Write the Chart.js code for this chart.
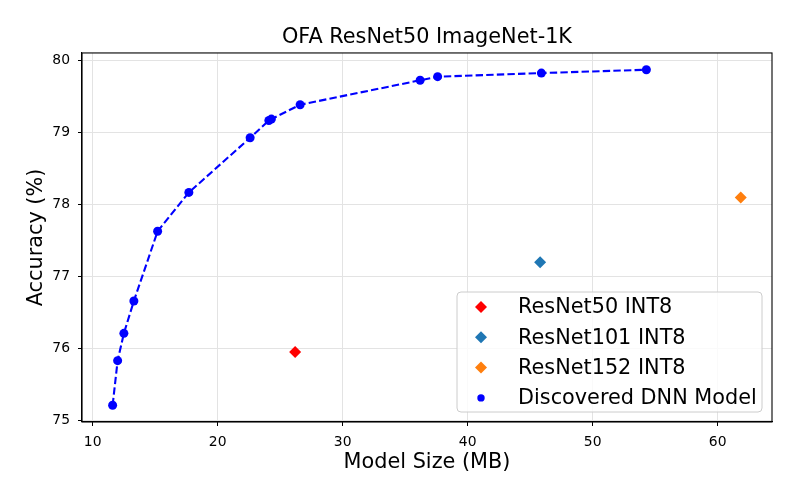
<!DOCTYPE html>
<html>
<head>
<meta charset="utf-8">
<script src="https://cdn.jsdelivr.net/npm/chart.js@4.4.1/dist/chart.umd.min.js"></script>
<style>
  html, body { margin: 0; padding: 0; background: #fff; }
  #wrap { width: 800px; height: 500px; }
</style>
</head>
<body>
<div id="wrap"><canvas id="chartCanvas"></canvas></div>
<script>
// discovered subnetworks (size in MB, top-1 accuracy %)
const ofaSize = [11.6, 12.0, 12.5, 13.3, 15.2, 17.7, 22.6, 24.1, 24.3, 26.6, 36.2, 37.6, 45.9, 54.3];
const ofaAcc = [75.21, 75.83, 76.21, 76.66, 77.63, 78.17, 78.93, 79.17, 79.19, 79.39, 79.73, 79.78, 79.83, 79.877];

// quantized baselines
const baseNames = ["ResNet50 INT8", "ResNet101 INT8", "ResNet152 INT8"];
const baseSize = [26.2, 45.8, 61.85];
const baseAcc = [75.95, 77.2, 78.1];
const baseColors = ["#ff0000", "#1f77b4", "#ff7f0e"];

const xTicks = [10, 20, 30, 40, 50, 60];
const yTicks = [75, 76, 77, 78, 79, 80];

const FONT = "'DejaVu Sans', sans-serif";

const datasets = baseNames.map((name, i) => ({
  label: name,
  type: "scatter",
  data: [{ x: baseSize[i], y: baseAcc[i] }],
  pointStyle: "rectRot",
  pointRadius: 6,
  pointHoverRadius: 6,
  pointBackgroundColor: baseColors[i],
  pointBorderWidth: 0,
  legendRadius: 6
}));

datasets.push({
  label: "Discovered DNN Model",
  type: "line",
  data: ofaSize.map((x, i) => ({ x: x, y: ofaAcc[i] })),
  borderColor: "#0000ff",
  borderWidth: 2.1,
  borderDash: [7.4, 3.2],
  pointStyle: "circle",
  pointRadius: 4.5,
  pointHoverRadius: 4.5,
  pointBackgroundColor: "#0000ff",
  pointBorderWidth: 0,
  tension: 0,
  fill: false,
  legendRadius: 3.7
});

// full black frame round the plot area
const frame = {
  id: "frame",
  afterDatasetsDraw(chart) {
    const { ctx, chartArea: a } = chart;
    ctx.save();
    ctx.strokeStyle = "#000";
    ctx.lineWidth = 1.1;
    ctx.strokeRect(a.left, a.top, a.right - a.left, a.bottom - a.top);
    ctx.restore();
  }
};

// matplotlib style legend in the lower right corner
const boxLegend = {
  id: "boxLegend",
  afterDraw(chart) {
    const { ctx, chartArea: a } = chart;
    const w = 305, h = 120;
    const left = a.right - 10 - w;
    const top = a.bottom - 10 - h;
    ctx.save();
    ctx.beginPath();
    ctx.roundRect(left, top, w, h, 4);
    ctx.fillStyle = "rgba(255,255,255,0.8)";
    ctx.fill();
    ctx.strokeStyle = "#cccccc";
    ctx.lineWidth = 1;
    ctx.stroke();

    ctx.font = "20.8px " + FONT;
    ctx.textBaseline = "middle";
    chart.data.datasets.forEach((ds, i) => {
      const cx = left + 24;
      const cy = top + 15 + i * 30.3;
      const r = ds.legendRadius;
      ctx.fillStyle = ds.pointBackgroundColor;
      ctx.beginPath();
      if (ds.pointStyle === "circle") {
        ctx.arc(cx, cy, r, 0, Math.PI * 2);
      } else {
        ctx.moveTo(cx, cy - r);
        ctx.lineTo(cx + r, cy);
        ctx.lineTo(cx, cy + r);
        ctx.lineTo(cx - r, cy);
        ctx.closePath();
      }
      ctx.fill();
      ctx.fillStyle = "#000";
      ctx.fillText(ds.label, left + 61, cy + 1);
    });
    ctx.restore();
  }
};

const ctx = document.getElementById("chartCanvas");

new Chart(ctx, {
  type: "scatter",
  data: { datasets: datasets },
  plugins: [frame, boxLegend],
  options: {
    responsive: true,
    maintainAspectRatio: false,
    animation: false,
    layout: { padding: { left: 0, right: 28, top: 0, bottom: 0 } },
    plugins: {
      legend: { display: false },
      tooltip: { enabled: false },
      title: {
        display: true,
        fullSize: false,
        text: "OFA ResNet50 ImageNet-1K",
        color: "#000",
        font: { family: FONT, size: 20.8, weight: "normal" },
        padding: { top: 25, bottom: 3 }
      }
    },
    scales: {
      x: {
        type: "linear",
        min: 9.15,
        max: 64.35,
        afterBuildTicks: s => { s.ticks = xTicks.map(v => ({ value: v })); },
        afterFit: s => { s.height = 78; },
        grid: { color: "#e3e3e3", lineWidth: 1, tickColor: "#000", tickLength: 4 },
        border: { color: "#000", width: 1.1 },
        ticks: { color: "#000", padding: 8, font: { family: FONT, size: 13.9 } },
        title: {
          display: true,
          text: "Model Size (MB)",
          color: "#000",
          font: { family: FONT, size: 20.8 },
          padding: { top: 0, bottom: 24.5 }
        }
      },
      y: {
        type: "linear",
        min: 74.977,
        max: 80.11,
        afterBuildTicks: s => { s.ticks = yTicks.map(v => ({ value: v })); },
        afterFit: s => { s.width = 82; },
        grid: { color: "#e3e3e3", lineWidth: 1, tickColor: "#000", tickLength: 4 },
        border: { color: "#000", width: 1.1 },
        ticks: { color: "#000", padding: 8, font: { family: FONT, size: 13.9 } },
        title: {
          display: true,
          text: "Accuracy (%)",
          color: "#000",
          font: { family: FONT, size: 20.8 },
          padding: { top: 24.5, bottom: 0 }
        }
      }
    }
  }
});
</script>
</body>
</html>
